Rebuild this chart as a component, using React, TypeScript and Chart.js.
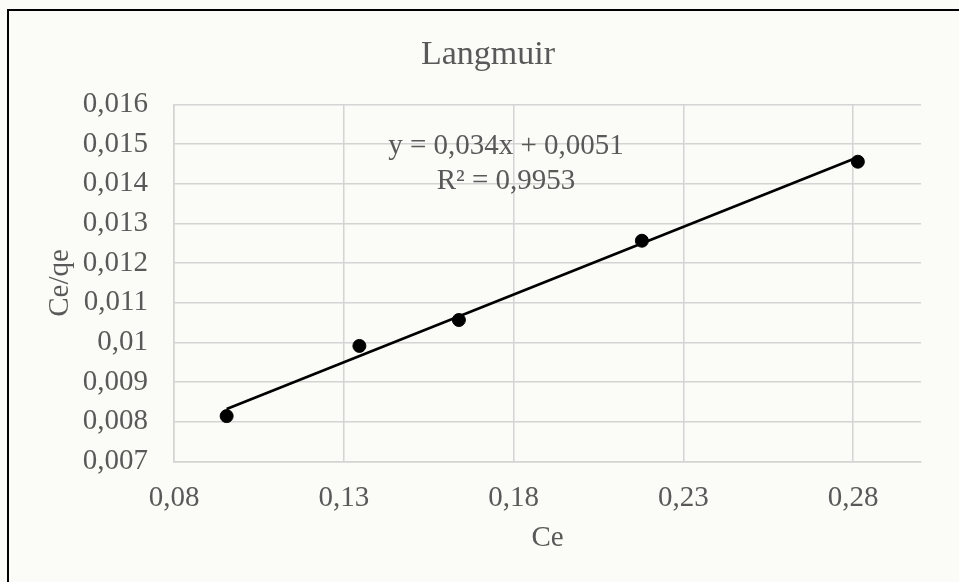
import React, { useEffect, useRef } from "react";
import { Chart, registerables } from "chart.js";

Chart.register(...registerables);

const chartTitle = "Langmuir";
const xAxisTitle = "Ce";
const yAxisTitle = "Ce/qe";
const ceValues = [0.0955, 0.1346, 0.1639, 0.2178, 0.2814];
const ceQeValues = [0.00814, 0.00991, 0.010564, 0.012564, 0.014557];
const trendX = [0.0955, 0.2814];
const trendY = [0.00832, 0.01467];
const xTicks = [0.08, 0.13, 0.18, 0.23, 0.28];
const yTicks = [0.007, 0.008, 0.009, 0.01, 0.011, 0.012, 0.013, 0.014, 0.015, 0.016];
const equationLines = ["y = 0,034x + 0,0051", "R² = 0,9953"];

const TEXT = "#595959";
const GRID = "#d4d4d4";
const FONT = "'Liberation Serif', 'Times New Roman', serif";
const fmt = (v: number) => String(v).replace(".", ",");

export default function App() {
  const ref = useRef<HTMLCanvasElement | null>(null);

  useEffect(() => {
    if (!ref.current) return;
    const textPlugin = {
      id: "texts",
      afterDatasetsDraw(chart: any) {
        const { ctx, chartArea } = chart;
        ctx.save();
        ctx.fillStyle = TEXT;
        ctx.textAlign = "center";
        ctx.textBaseline = "middle";
        ctx.font = `34px ${FONT}`;
        ctx.fillText(chartTitle, 479, 44);
        ctx.font = `29px ${FONT}`;
        const cx = chartArea.left + 332;
        const cy = chartArea.top + 41.5;
        equationLines.forEach((line, i) => ctx.fillText(line, cx, cy + i * 35));
        ctx.restore();
      },
    };

    const chart = new Chart(ref.current, {
      type: "scatter",
      data: {
        datasets: [
          {
            label: "Data",
            data: ceValues.map((x, i) => ({ x, y: ceQeValues[i] })),
            backgroundColor: "#000000",
            borderColor: "#000000",
            pointRadius: 6.5,
            pointHoverRadius: 6.5,
            order: 0,
          },
          {
            label: "Trend",
            type: "line",
            data: trendX.map((x, i) => ({ x, y: trendY[i] })),
            borderColor: "#000000",
            borderWidth: 2.6,
            pointRadius: 0,
            fill: false,
            order: 1,
          } as any,
        ],
      },
      options: {
        animation: false,
        responsive: false,
        maintainAspectRatio: false,
        layout: { padding: { left: 0, right: 38, top: 93.5, bottom: 0 } },
        plugins: {
          legend: { display: false },
          tooltip: { enabled: false },
          title: { display: false },
        },
        scales: {
          x: {
            type: "linear",
            min: 0.08,
            max: 0.3,
            afterBuildTicks: (s: any) => {
              s.ticks = xTicks.map((v) => ({ value: v }));
            },
            afterFit: (s: any) => {
              s.height = 120.7;
            },
            ticks: {
              color: TEXT,
              font: { family: FONT, size: 29 },
              padding: 19.3,
              maxRotation: 0,
              autoSkip: false,
              callback: (v: any) => fmt(Number(v)),
            },
            grid: { color: GRID, lineWidth: 1.5, drawTicks: false },
            border: { color: GRID, width: 1.5 },
            title: {
              display: true,
              text: xAxisTitle,
              color: TEXT,
              font: { family: FONT, size: 29 },
              padding: { top: 0, bottom: 25.8 },
            },
          },
          y: {
            type: "linear",
            min: 0.007,
            max: 0.016,
            afterBuildTicks: (s: any) => {
              s.ticks = yTicks.map((v) => ({ value: v }));
            },
            afterFit: (s: any) => {
              s.width = 165;
            },
            ticks: {
              color: TEXT,
              font: { family: FONT, size: 29 },
              padding: 26,
              autoSkip: false,
              callback: (v: any) => fmt(Number(v)),
            },
            grid: { color: GRID, lineWidth: 1.5, drawTicks: false },
            border: { color: GRID, width: 1.5 },
            title: {
              display: true,
              text: yAxisTitle,
              color: TEXT,
              font: { family: FONT, size: 29 },
              padding: { top: 33.6, bottom: 0 },
            },
          },
        },
      },
      plugins: [textPlugin],
    });
    return () => chart.destroy();
  }, []);

  return (
    <div style={{ position: "fixed", inset: 0, background: "#fbfcf7" }}>
      <div
        style={{
          position: "absolute",
          left: 7,
          top: 9,
          right: 0,
          bottom: 0,
          borderLeft: "2px solid #000",
          borderTop: "2px solid #000",
        }}
      >
        <canvas ref={ref} width={950} height={571} style={{ display: "block" }} />
      </div>
    </div>
  );
}
